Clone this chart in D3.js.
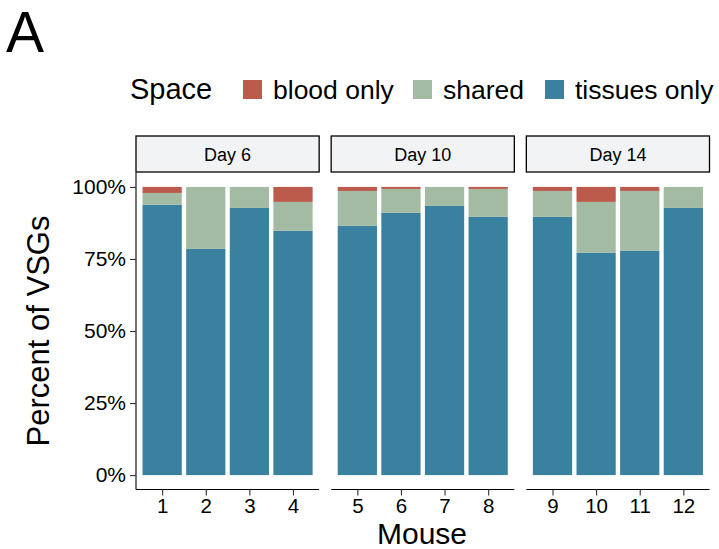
<!DOCTYPE html>
<html>
<head>
<meta charset="utf-8">
<script src="https://cdn.jsdelivr.net/npm/d3@7"></script>
<style>
  body { margin: 0; background: #fff; }
  text { font-family: "Liberation Sans", Arial, Helvetica, sans-serif; fill: #000; }
</style>
</head>
<body>
<script>
// data (percent of VSGs per mouse)
var mice = ["1","2","3","4","5","6","7","8","9","10","11","12"];
var days = ["Day 6","Day 10","Day 14"];
var mouseDay = ["Day 6","Day 6","Day 6","Day 6","Day 10","Day 10","Day 10","Day 10","Day 14","Day 14","Day 14","Day 14"];
var tissuesOnly = [93.8, 78.5, 92.7, 84.8, 86.5, 91.0, 93.4, 89.6, 89.6, 77.2, 77.9, 92.7];
var shared      = [4.1, 21.5, 7.3, 10.0, 12.1, 8.3, 6.6, 9.7, 9.0, 17.6, 20.7, 7.3];
var bloodOnly   = [2.1, 0, 0, 5.2, 1.4, 0.7, 0, 0.7, 1.4, 5.2, 1.4, 0];
var spaceLabels = ["blood only", "shared", "tissues only"];
var spaceKeys   = ["blood", "shared", "tissues"];
var yTicks = [0, 25, 50, 75, 100];

var colors = { blood: "#BC5B4B", shared: "#A2BBA2", tissues: "#3A819F" };

var W = 719, H = 549;
var svg = d3.select("body").append("svg").attr("width", W).attr("height", H);

var rows = mice.map(function (m, i) {
	return { mouse: m, day: mouseDay[i], tissues: tissuesOnly[i] / 100, shared: shared[i] / 100, blood: bloodOnly[i] / 100 };
});
var series = d3.stack().keys(["tissues", "shared", "blood"])(rows);

// layout
var panelTop = 172.5, panelBottom = 489.5, stripTop = 136;
var panelX = d3.scaleBand().domain(days).range([136, 709.5]).paddingInner(12 / 195);
var y = d3.scaleLinear().domain([-0.05, 1.05]).range([panelBottom, panelTop]);

// title letter
svg.append("text").attr("x", 6).attr("y", 52).attr("font-size", 57).text("A");

// legend
var leg = svg.append("g");
leg.append("text").attr("x", 130).attr("y", 99).attr("font-size", 29).text("Space");
var legX = [243, 413, 545];
spaceKeys.forEach(function (k, i) {
	leg.append("rect").attr("x", legX[i]).attr("y", 80).attr("width", 19).attr("height", 19).attr("fill", colors[k]);
	leg.append("text").attr("x", legX[i] + 30).attr("y", 99).attr("font-size", 26.5).text(spaceLabels[i]);
});

days.forEach(function (day, di) {
	var px = panelX(day), pw = panelX.bandwidth();
	var dayMice = mice.filter(function (m, i) { return mouseDay[i] === day; });
	var x = d3.scalePoint().domain(dayMice).range([px, px + pw]).padding(0.6);
	var bw = x.step() * 0.9;

	var g = svg.append("g");
	// strip
	g.append("rect").attr("x", px).attr("y", stripTop).attr("width", pw).attr("height", panelTop - stripTop - 0.5)
		.attr("fill", "#F2F3F5").attr("stroke", "#000").attr("stroke-width", 1.3);
	g.append("text").attr("x", px + pw / 2).attr("y", stripTop + 25).attr("text-anchor", "middle")
		.attr("font-size", 18).text(day);

	// bars
	series.forEach(function (s) {
		g.selectAll(null).data(s.filter(function (d) { return d.data.day === day; })).enter()
			.append("rect")
			.attr("x", function (d) { return x(d.data.mouse) - bw / 2; })
			.attr("width", bw)
			.attr("y", function (d) { return y(d[1]); })
			.attr("height", function (d) { return y(d[0]) - y(d[1]); })
			.attr("fill", colors[s.key]);
	});

	// x axis
	var xa = g.append("g").attr("transform", "translate(0," + panelBottom + ")")
		.call(d3.axisBottom(x).tickSizeOuter(0).tickSizeInner(6).tickPadding(3));
	xa.select(".domain").attr("stroke-width", 1.1).attr("d", "M" + px + ",0H" + (px + pw));
	xa.selectAll(".tick line").attr("stroke", "#333").attr("stroke-width", 1.1);
	xa.selectAll(".tick text").attr("font-size", 20.5).attr("fill", "#000").attr("font-family", null);

	if (di === 0) {
		var ya = g.append("g").attr("transform", "translate(" + px + ",0)")
			.call(d3.axisLeft(y).tickValues(yTicks.map(function (t) { return t / 100; }))
				.tickFormat(function (t) { return Math.round(t * 100) + "%"; })
				.tickSizeOuter(0).tickSizeInner(6).tickPadding(4));
		ya.select(".domain").attr("stroke-width", 1.1).attr("d", "M0," + panelTop + "V" + panelBottom);
		ya.selectAll(".tick line").attr("stroke", "#333").attr("stroke-width", 1.1);
		ya.selectAll(".tick text").attr("font-size", 21).attr("fill", "#000").attr("font-family", null);
	}
});

// axis titles
svg.append("text").attr("x", 422).attr("y", 544).attr("text-anchor", "middle").attr("font-size", 30).text("Mouse");
svg.append("text").attr("transform", "translate(49," + ((panelTop + panelBottom) / 2) + ") rotate(-90)")
	.attr("text-anchor", "middle").attr("font-size", 31).text("Percent of VSGs");
</script>
</body>
</html>
